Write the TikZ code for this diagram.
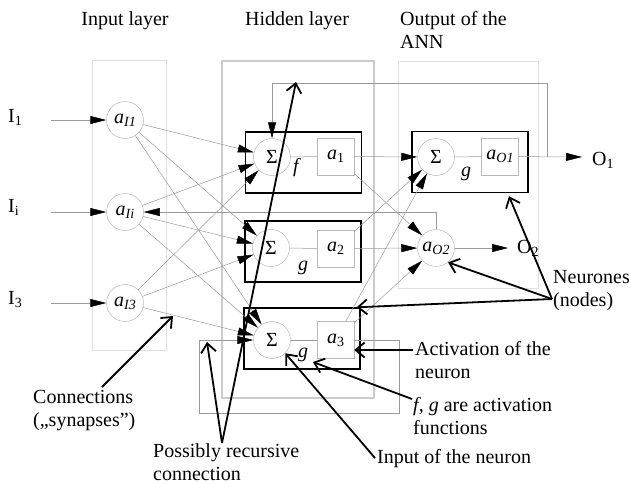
\documentclass[tikz,border=0pt]{standalone}
\usepackage{fontspec}
\setmainfont{Liberation Serif}
\usetikzlibrary{arrows.meta,calc}

% small lowered text for indices
\newcommand\lowsub[1]{\raisebox{-0.35ex}{\fontsize{14}{14}\selectfont #1}}
% italic variable with an italic index
\newcommand\itvar[2]{\textit{#1}\lowsub{\textit{#2}}}

\begin{document}
\begin{tikzpicture}[x=1pt,y=-1pt,
  every node/.style={font=\fontsize{20}{23}\selectfont},
  wire/.style={draw=gray!80, line width=0.5pt},
  conn/.style={wire, -{Triangle[length=16pt,width=8pt,color=black]}},
  layerbox/.style={draw=gray!25, line width=0.8pt},
  sumnode/.style={circle, draw=gray!55, line width=0.5pt, minimum size=37pt, inner sep=0pt},
  actbox/.style={rectangle, draw=gray!55, line width=0.5pt, minimum size=37pt, inner sep=0pt},
  neuronbox/.style={rectangle, draw=black, line width=1.4pt, minimum width=116pt, minimum height=61pt, inner sep=0pt},
  note/.style={draw=black, line width=1.8pt, -{Straight Barb[length=9pt,width=15pt]}},
  txt/.style={align=left, inner sep=0pt, anchor=base west}]

\useasboundingbox (0,0) rectangle (629,483);

% layer frames
\draw[layerbox] (92,60) rectangle (166,350);
\draw[draw=gray!40, line width=1.5pt] (222,61) rectangle (374,398);
\draw[layerbox] (398,61) rectangle (538,288);

% headings (multi-line texts are placed by the baseline of their last line)
\node[anchor=base] (hin) at (125,25) {Input layer};
\node[anchor=base] (hhid) at (297,25) {Hidden layer};
\node[txt] (hout) at (400,48) {Output of the\\ANN};

% input neurones
\node[sumnode] (i1) at (125,120) {\itvar{a}{I1}};
\node[sumnode] (ii) at (125,212) {\itvar{a}{Ii}};
\node[sumnode] (i3) at (125,303) {\itvar{a}{I3}};
\node[txt] (l1) at (8,122) {I\lowsub{1}};
\node[txt] (li) at (8,212) {I\lowsub{i}};
\node[txt] (l3) at (8,304) {I\lowsub{3}};
\coordinate (in1) at (51,120);
\coordinate (ini) at (51,212);
\coordinate (in3) at (51,303);
\draw[conn] (in1) -- (i1);
\draw[conn] (ini) -- (ii);
\draw[conn] (in3) -- (i3);

% hidden neurones
\node[neuronbox] (hb1) at (303.5,162.5) {};
\node[neuronbox] (hb2) at (303,251.5) {};
\node[neuronbox] (hb3) at (302,338.5) {};
\node[sumnode] (s1) at (272,157) {Σ};
\node[sumnode] (s2) at (271,248) {Σ};
\node[sumnode] (s3) at (272,340) {Σ};
\node[actbox] (a1) at (335.5,156.5) {\textit{a}\lowsub{1}};
\node[actbox] (a2) at (335.5,248.5) {\textit{a}\lowsub{2}};
\node[actbox] (a3) at (335.5,340) {\textit{a}\lowsub{3}};
\node[anchor=base] (f1) at (297,172) {\textit{f}};
\node[anchor=base] (g2) at (303,270) {\textit{g}};
\node[anchor=base] (g3) at (303,357) {\textit{g}};
\draw[wire] (s1) -- (a1);
\draw[wire] (s2) -- (a2);
\draw[wire] (s3) -- (a3);

% output neurones
\node[neuronbox] (ob1) at (470,162) {};
\node[sumnode] (so1) at (436,157) {Σ};
\node[actbox] (ao1) at (500,156.5) {\itvar{a}{O1}};
\node[anchor=base] (go1) at (466,176) {\textit{g}};
\node[sumnode] (ao2) at (436,248) {\itvar{a}{O2}};
\draw[wire] (so1) -- (ao1);
\coordinate (o1end) at (582,157);
\coordinate (o2end) at (508,248);
\draw[conn] (ao1) -- (o1end);
\draw[conn] (ao2) -- (o2end);
\node[txt] (o1) at (592,165) {O\lowsub{1}};
\node[txt] (o2) at (517,253) {O\lowsub{2}};

% synapses
\foreach \src in {i1,ii,i3}
  \foreach \dst in {s1,s2,s3}
    \draw[conn] (\src) -- (\dst);
\foreach \src in {a1,a2,a3}
  \foreach \dst in {so1,ao2}
    \draw[conn] (\src) -- (\dst);

% recurrent connections
\coordinate (fb) at (547,157);
\coordinate (fbtop) at (547,83);
\draw[conn] (fb) -- (fbtop) -| (s1);
\draw[conn] (ao2) |- (ii);
\coordinate (r1) at (399,413);
\coordinate (r2) at (199,413);
\draw[conn] (a3.east) -| (r1) -- (r2) |- (s3);

% annotations
\node[txt] (tcon) at (33,426) {Connections\\(„synapses”)};
\node[txt] (trec) at (153,480) {Possibly recursive\\connection};
\node[txt] (tinp) at (377,463) {Input of the neuron};
\node[txt] (tfg) at (413,434) {\textit{f}, \textit{g} are activation\\functions};
\node[txt] (tact) at (415,378) {Activation of the\\neuron};
\node[txt] (tneu) at (553,306) {Neurones\\(nodes)};

\coordinate (cn) at (102,387);
\coordinate (cnT) at (173,316);
\draw[note] (cn) -- (cnT);

\coordinate (pr) at (222,443);
\coordinate (prA) at (207,342);
\coordinate (prB) at (296,82);
\draw[note] (pr) -- (prA);
\draw[note] (pr) -- (prB);

\coordinate (inp) at (375,458);
\draw[note] (inp) -- (s3.-45);

\coordinate (fg) at (412,399);
\coordinate (fgT) at (313,362);
\draw[note] (fg) -- (fgT);

\coordinate (act) at (413,350);
\draw[note] (act) -- ([yshift=-10pt]a3.east);

\coordinate (neu) at (552,299);
\draw[note] (neu) -- (ao2.-50);
\draw[note] (neu) -- ([xshift=39pt,yshift=-3pt]ob1.south);
\draw[note] (neu) -- ([xshift=-4pt]hb3.north east);
\end{tikzpicture}
\end{document}
